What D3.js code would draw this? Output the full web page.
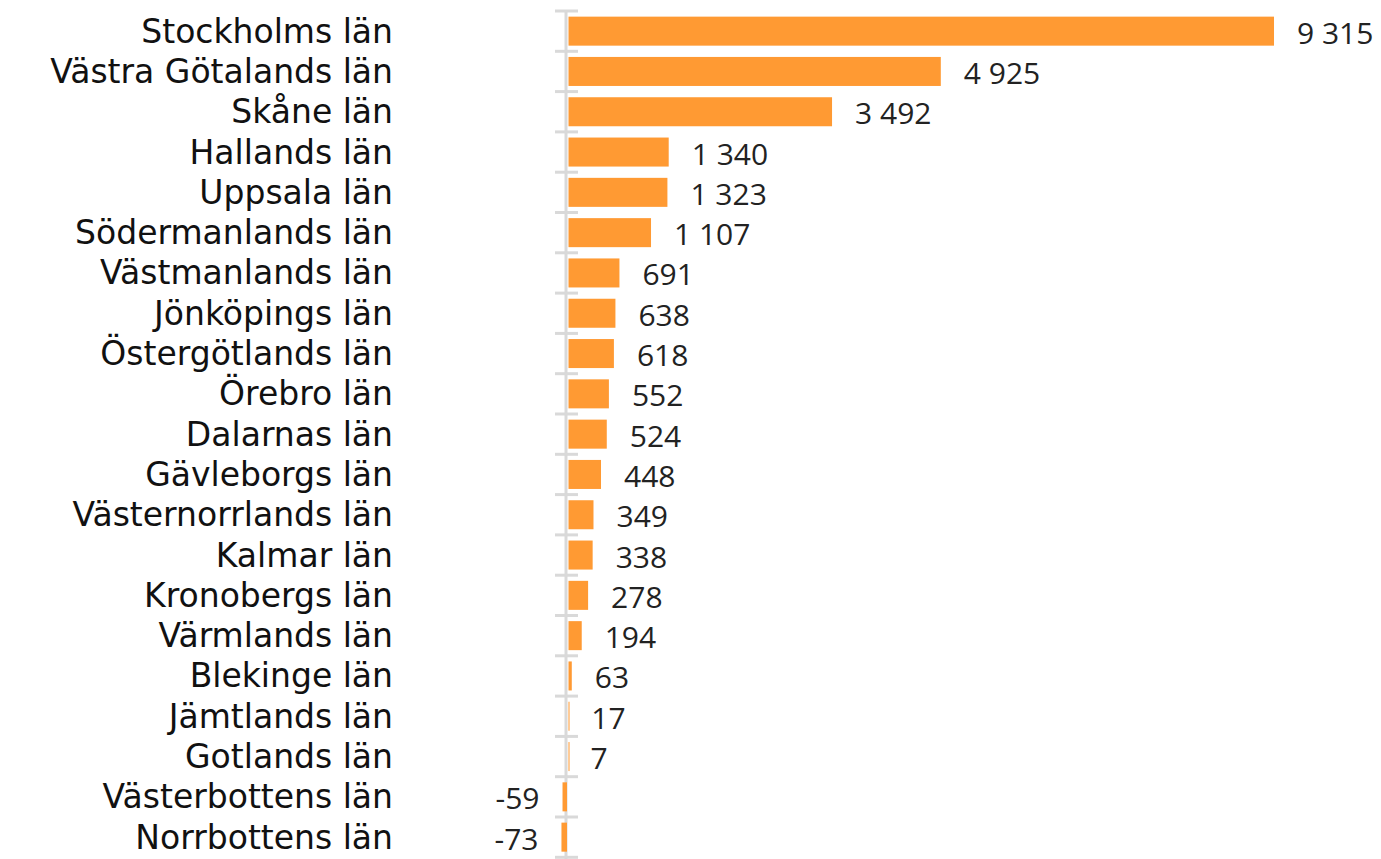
<!DOCTYPE html>
<html>
<head>
<meta charset="utf-8">
<script src="https://cdn.jsdelivr.net/npm/d3@7"></script>
<style>
  body { margin: 0; background: #fff; }
</style>
</head>
<body>
<div id="chart"></div>
<script>
const counties = ["Stockholms län", "Västra Götalands län", "Skåne län", "Hallands län", "Uppsala län",
  "Södermanlands län", "Västmanlands län", "Jönköpings län", "Östergötlands län", "Örebro län",
  "Dalarnas län", "Gävleborgs län", "Västernorrlands län", "Kalmar län", "Kronobergs län",
  "Värmlands län", "Blekinge län", "Jämtlands län", "Gotlands län", "Västerbottens län", "Norrbottens län"];
const values = [9315, 4925, 3492, 1340, 1323, 1107, 691, 638, 618, 552, 524, 448, 349, 338, 278, 194, 63, 17, 7, -59, -73];

const width = 1381, height = 859;

const svg = d3.select("#chart").append("svg")
  .attr("width", width)
  .attr("height", height);

// scales
const x = d3.scaleLinear().domain([-1000, 10000]).range([491.1, 1326]);
const y = d3.scaleBand().domain(counties).range([11, 11 + 40.3 * counties.length])
  .paddingInner(0.28).paddingOuter(0.14);

// swedish style: space as thousands separator, plain hyphen for minus
const fmt = v => d3.format(",")(v).replace(/,/g, " ").replace("−", "-");

// axis line with ticks between categories
const axis = svg.append("g");
axis.append("line")
  .attr("x1", x(0) - 1).attr("x2", x(0) - 1)
  .attr("y1", y.range()[0]).attr("y2", height)
  .attr("stroke", "#d9d9d9").attr("stroke-width", 3);
axis.selectAll("line.tick")
  .data(d3.range(counties.length + 1))
  .join("line")
  .attr("class", "tick")
  .attr("x1", x(0) - 12).attr("x2", x(0) + 11)
  .attr("y1", i => y.range()[0] + i * y.step())
  .attr("y2", i => y.range()[0] + i * y.step())
  .attr("stroke", "#d9d9d9").attr("stroke-width", 3);

// bars
svg.append("g").selectAll("rect")
  .data(values)
  .join("rect")
  .attr("x", d => x(Math.min(0, d)) + (d >= 0 ? 1.5 : 0))
  .attr("y", (d, i) => y(counties[i]))
  .attr("width", d => Math.max(1, Math.abs(x(d) - x(0)) - (d >= 0 ? 1.5 : 0)))
  .attr("height", y.bandwidth())
  .attr("fill", "#ff9a33");

// value labels
svg.append("g").selectAll("text")
  .data(values)
  .join("text")
  .attr("x", d => d >= 0 ? x(d) + 23 : x(d) - 23)
  .attr("y", (d, i) => y(counties[i]) + y.bandwidth() / 2 + 1)
  .attr("text-anchor", d => d >= 0 ? "start" : "end")
  .attr("dominant-baseline", "central")
  .attr("font-family", "'Open Sans', sans-serif")
  .attr("font-size", 30)
  .attr("fill", "#222")
  .text(d => fmt(d));

// category labels
svg.append("g").selectAll("text")
  .data(counties)
  .join("text")
  .attr("x", 393)
  .attr("y", d => y(d) + y.bandwidth() / 2)
  .attr("text-anchor", "end")
  .attr("dominant-baseline", "central")
  .attr("font-family", "'DejaVu Sans', Verdana, sans-serif")
  .attr("font-size", 33)
  .attr("fill", "#111")
  .text(d => d);
</script>
</body>
</html>
